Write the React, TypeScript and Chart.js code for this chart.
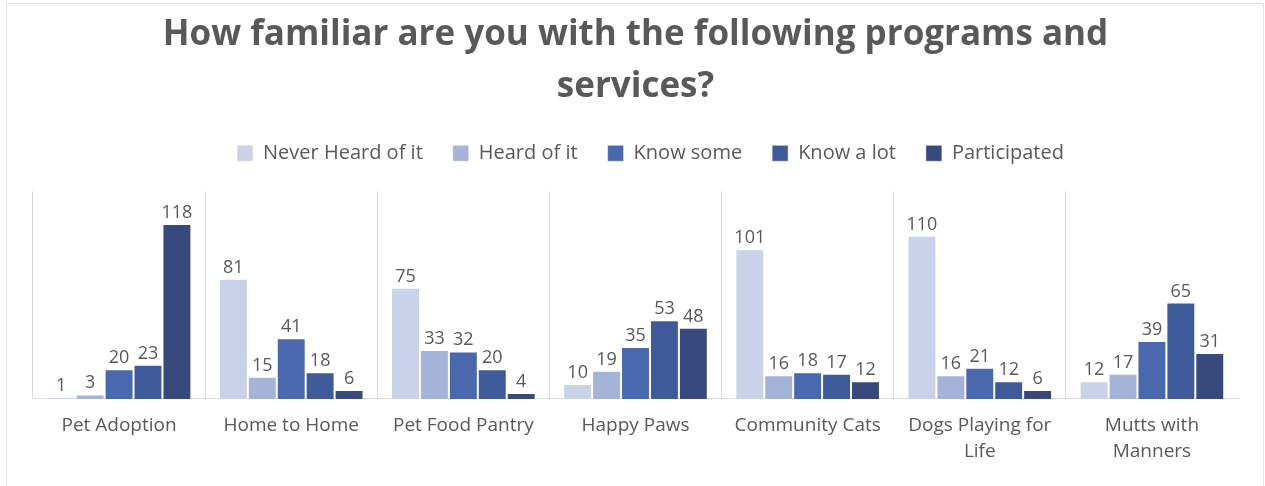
import React, { useEffect, useRef } from "react";
import { Chart, registerables } from "chart.js";

Chart.register(...registerables);

const titleLines = ["How familiar are you with the following programs and", "services?"];
const categories: (string | string[])[] = [
  "Pet Adoption",
  "Home to Home",
  "Pet Food Pantry",
  "Happy Paws",
  "Community Cats",
  ["Dogs Playing for", "Life"],
  ["Mutts with", "Manners"],
];
const seriesNames = ["Never Heard of it", "Heard of it", "Know some", "Know a lot", "Participated"];
const neverHeard = [1, 81, 75, 10, 101, 110, 12];
const heardOf = [3, 15, 33, 19, 16, 16, 17];
const knowSome = [20, 41, 32, 35, 18, 21, 39];
const knowALot = [23, 18, 20, 53, 17, 12, 65];
const participated = [118, 6, 4, 48, 12, 6, 31];
const seriesColors = ["#C9D2E8", "#A4B4D8", "#4968AE", "#3E5A98", "#37497D"];

const TEXT = "#595959";
const FONT = "'Open Sans', 'Noto Sans', sans-serif";

const valueLabels = {
  id: "valueLabels",
  afterDatasetsDraw(chart: any) {
    const ctx = chart.ctx;
    ctx.save();
    ctx.font = `18px ${FONT}`;
    ctx.fillStyle = TEXT;
    ctx.textAlign = "center";
    ctx.textBaseline = "alphabetic";
    chart.data.datasets.forEach((ds: any, i: number) => {
      const meta = chart.getDatasetMeta(i);
      meta.data.forEach((el: any, j: number) => {
        ctx.fillText(String(ds.data[j]), el.x, el.y - 6);
      });
    });
    ctx.restore();
  },
};

const legendSpacer = {
  id: "legendSpacer",
  beforeInit(chart: any) {
    const legend = chart.legend;
    if (!legend) return;
    const originalFit = legend.fit;
    legend.fit = function () {
      originalFit.call(this);
      this.height += 18;
    };
  },
  afterLayout(chart: any) {
    if (chart.legend) chart.legend.left += 30;
  },
};

export default function App() {
  const ref = useRef<HTMLCanvasElement>(null);
  useEffect(() => {
    if (!ref.current) return;
    const allSeries = [neverHeard, heardOf, knowSome, knowALot, participated];
    const chart = new Chart(ref.current, {
      type: "bar",
      data: {
        labels: categories,
        datasets: allSeries.map((d, i) => ({
          label: seriesNames[i],
          data: d,
          backgroundColor: seriesColors[i],
          borderColor: "rgba(255,255,255,0.5)",
          borderWidth: 1,
          categoryPercentage: 0.84,
          barPercentage: 1,
        })),
      },
      options: {
        animation: false,
        responsive: true,
        maintainAspectRatio: false,
        layout: { padding: { left: 33, right: 27, top: 9, bottom: 7 } },
        plugins: {
          title: {
            display: true,
            text: titleLines,
            color: TEXT,
            font: { family: FONT, size: 35, weight: "bold", lineHeight: 1.49 },
            padding: { top: 0, bottom: 0 },
          },
          legend: {
            position: "top",
            labels: {
              color: TEXT,
              font: { family: FONT, size: 20 },
              boxWidth: 16,
              boxHeight: 16,
              padding: 30,
            },
          },
          tooltip: { enabled: false },
        },
        scales: {
          x: {
            grid: {
              color: (c: any) => (c.type === "tick" ? "#D9D9D9" : "rgba(0,0,0,0)"),
              drawTicks: false,
              offset: true,
            },
            border: { color: "#D9D9D9", width: 1 },
            ticks: {
              color: TEXT,
              font: { family: FONT, size: 19, lineHeight: 1.37 },
              padding: 14,
              maxRotation: 0,
              autoSkip: false,
            },
          },
          y: {
            display: false,
            min: 0,
            max: 140,
          },
        },
      },
      plugins: [valueLabels, legendSpacer],
    });
    return () => chart.destroy();
  }, []);

  return (
    <div style={{ position: "fixed", left: 0, top: 0, width: 1265, height: 486, background: "#fff", overflow: "hidden" }}>
      <div style={{ position: "absolute", left: 6, top: 3, width: 1256, height: 520, border: "1px solid #E3E3E3" }} />
      <div style={{ position: "absolute", left: 0, top: 0, width: 1265, height: 486 }}>
        <canvas ref={ref} />
      </div>
    </div>
  );
}
